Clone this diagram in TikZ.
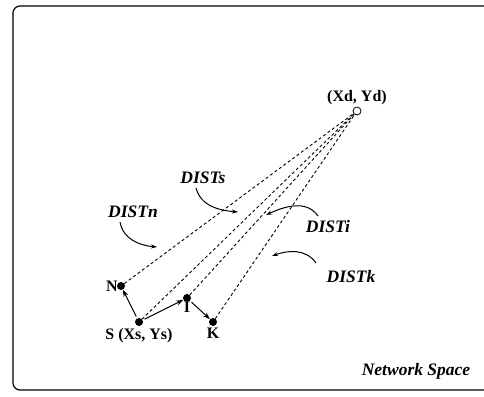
\documentclass[tikz,border=0pt]{standalone}
\usepackage{fontspec}
\setmainfont{Liberation Serif}
\usetikzlibrary{positioning}
\usetikzlibrary{arrows.meta}

\tikzset{
  host/.style={circle,fill=black,inner sep=0pt,minimum size=8pt},
  dest/.style={circle,draw,thick,fill=white,inner sep=0pt,minimum size=8pt},
  dist/.style={dash pattern=on 3pt off 2.5pt,line width=0.9pt},
  hop/.style={line width=1pt,shorten <=2pt,arrows = -{Stealth[length=7pt,width=5pt]}},
  pointer/.style={line width=1pt,arrows = -{Stealth[length=6pt,width=4pt]}},
  lbl/.style={font=\fontsize{16}{18}\selectfont\bfseries,inner sep=1pt},
  dlbl/.style={font=\fontsize{17.5}{19}\selectfont\bfseries\itshape,inner sep=1pt}
}

\begin{document}
\begin{tikzpicture}[x=1pt,y=1pt]

            \useasboundingbox (0,0) rectangle (484,396);

            % frame, open on the right
            \draw[line width=1.2pt,rounded corners=7pt] (484,390) -- (13,390) -- (13,6) -- (484,6);

            \path   (139,74) node (s) [host] {}
                    (121,110) node (n) [host] {}
                    (187,98) node (i) [host] {}
                    (213,74) node (k) [host] {}
                    (357,285) node (d) [dest] {};

            \draw[dist] (n) -- (d);
            \draw[dist] (s) -- (d);
            \draw[dist] (i) -- (d);
            \draw[dist] (k) -- (d);

            \draw[hop] (s) -- (n);
            \draw[hop] (s) -- (i);
            \draw[hop] (i) -- (k);

            \node [lbl,left=2pt] at (n) {N};
            \node [lbl,below=5pt] at (s) {S (Xs, Ys)};
            \node [lbl,below=3pt] at (i) {I};
            \node [lbl,below=5pt] at (k) {K};
            \node [lbl,above=5pt] at (d) {(Xd, Yd)};

            \node (distn) [dlbl] at (133,184) {DISTn};
            \node (dists) [dlbl] at (203,218) {DISTs};
            \node (disti) [dlbl] at (328,169) {DISTi};
            \node (distk) [dlbl] at (351,119) {DISTk};

            \coordinate (tn) at (157,149);
            \coordinate (ts) at (238,184);
            \coordinate (ti) at (266,181);
            \coordinate (tk) at (272,140);

            \draw[pointer] (120,174) to[out=-80,in=175] (tn);
            \draw[pointer] (196,208) to[out=-75,in=175] (ts);
            \draw[pointer] (318,180) to[out=125,in=25] (ti);
            \draw[pointer] (316,133) to[out=125,in=20] (tk);

            \node [dlbl] at (416,25) {Network Space};
        \end{tikzpicture}
\end{document}
